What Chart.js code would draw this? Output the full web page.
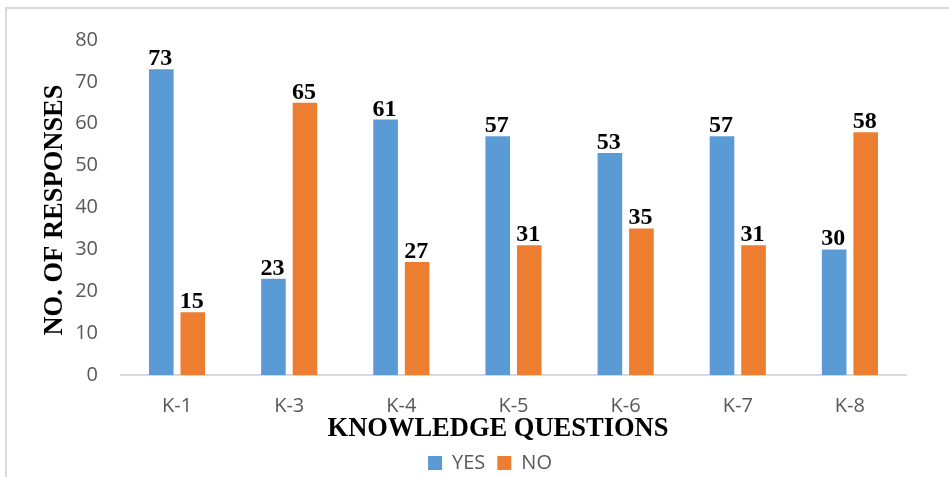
<!DOCTYPE html>
<html>
<head>
<meta charset="utf-8">
<script src="https://cdn.jsdelivr.net/npm/chart.js@4.4.1/dist/chart.umd.min.js"></script>
<style>
  html, body { margin: 0; padding: 0; background: #fff; overflow: hidden; }
  #frame {
    position: absolute; left: 5px; top: 7px; width: 1000px; height: 520px;
    border-left: 2px solid #d9d9d9; border-top: 2px solid #d9d9d9;
  }
  #wrap { position: absolute; left: 0; top: 0; width: 949px; height: 477px; }
</style>
</head>
<body>
<div id="frame"></div>
<div id="wrap"><canvas id="chart"></canvas></div>
<script>
const categories = ['K-1', 'K-3', 'K-4', 'K-5', 'K-6', 'K-7', 'K-8'];
const yesValues = [73, 23, 61, 57, 53, 57, 30];
const noValues = [15, 65, 27, 31, 35, 31, 58];
const seriesNames = ['YES', 'NO'];
const yMin = 0;
const yMax = 80;
const yStep = 10;

const SERIF = '"Liberation Serif", "Times New Roman", serif';
const SANS = '"Open Sans", "Noto Sans", sans-serif';

// value printed above every bar
const barValueLabels = {
    id: 'barValueLabels',
    afterDatasetsDraw(chart) {
        const ctx = chart.ctx;
        ctx.save();
        ctx.font = 'bold 24px ' + SERIF;
        ctx.fillStyle = '#000';
        ctx.textAlign = 'center';
        ctx.textBaseline = 'alphabetic';
        chart.data.datasets.forEach((ds, i) => {
            chart.getDatasetMeta(i).data.forEach((bar, j) => {
                ctx.fillText(String(ds.data[j]), bar.x - 1, bar.y - 4);
            });
        });
        ctx.restore();
    }
};

// axis titles in bold serif
const axisTitles = {
    id: 'axisTitles',
    afterDraw(chart) {
        const ctx = chart.ctx;
        ctx.save();
        ctx.font = 'bold 26.5px ' + SERIF;
        ctx.fillStyle = '#000';
        ctx.textAlign = 'center';
        ctx.textBaseline = 'alphabetic';
        ctx.fillText('KNOWLEDGE QUESTIONS', 498, 436);
        ctx.translate(62, 210);
        ctx.rotate(-Math.PI / 2);
        ctx.fillText('NO. OF RESPONSES', 0, 0);
        ctx.restore();
    }
};

const ctx = document.getElementById('chart').getContext('2d');
new Chart(ctx, {
    type: 'bar',
    data: {
        labels: categories,
        datasets: [
            {
                label: seriesNames[0],
                data: yesValues,
                backgroundColor: '#5b9bd5',
                categoryPercentage: 0.5625,
                barPercentage: 0.78
            },
            {
                label: seriesNames[1],
                data: noValues,
                backgroundColor: '#ed7d31',
                categoryPercentage: 0.5625,
                barPercentage: 0.78
            }
        ]
    },
    options: {
        responsive: true,
        maintainAspectRatio: false,
        animation: false,
        layout: { padding: { left: 74, right: 43, top: 40, bottom: -6 } },
        plugins: {
            legend: {
                position: 'bottom',
                labels: {
                    boxWidth: 14,
                    boxHeight: 14,
                    padding: 12,
                    color: '#595959',
                    font: { family: SANS, size: 20 }
                }
            },
            tooltip: { enabled: false }
        },
        scales: {
            x: {
                grid: { display: false, drawTicks: false },
                border: { display: true, color: '#d9d9d9', width: 2 },
                ticks: {
                    color: '#595959',
                    font: { family: SANS, size: 20 },
                    padding: 19
                },
                afterFit(scale) { scale.height = 66; }
            },
            y: {
                min: yMin,
                max: yMax,
                grid: { display: false, drawTicks: false },
                border: { display: false },
                ticks: {
                    stepSize: yStep,
                    color: '#595959',
                    font: { family: SANS, size: 20 },
                    padding: 23
                },
                afterFit(scale) { scale.width = 47; }
            }
        }
    },
    plugins: [barValueLabels, axisTitles]
});
</script>
</body>
</html>
